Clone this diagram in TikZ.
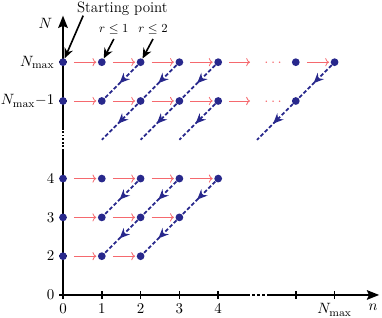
\documentclass[tikz,border=0pt]{standalone}
\usepackage{amsmath,amssymb}
\usetikzlibrary{arrows.meta,calc,positioning,decorations.markings}

\definecolor{sitecol}{RGB}{40,40,140}
\definecolor{hopcol}{RGB}{245,105,110}

\begin{document}
\begin{tikzpicture}[x=1cm,y=1cm,
    every node/.style={font=\fontsize{11}{13}\selectfont},
    site/.style={circle,fill=sitecol,inner sep=0pt,minimum size=0.2cm},
    hop/.style={hopcol,line width=0.6pt,-{To[length=2.8pt,width=6pt]},shorten <=5pt,shorten >=1pt},
    drop/.style={sitecol,line width=1.3pt,dash pattern=on 2.8pt off 1.6pt,
      postaction={decorate},
      decoration={markings,mark=at position 0.55 with {\arrow{Stealth[length=7.5pt,width=6.5pt]}}}},
    axis/.style={line width=1.5pt},
    pointer/.style={line width=1.2pt,-{Stealth[length=7.5pt,width=6.5pt]}},
    bound/.style={font=\fontsize{9.5}{11}\selectfont}]

      \useasboundingbox (-1.624,-0.593) rectangle (8.222,7.603);

      % axes
      \coordinate (o) at (0,0);
      \coordinate (ygap1) at (0,3.72);
      \coordinate (ygap2) at (0,4.28);
      \coordinate (ytop) at (0,7.2);
      \coordinate (xgap1) at (4.74,0);
      \coordinate (xgap2) at (5.26,0);
      \coordinate (xend) at (8.15,0);
      \draw[axis] (o) -- (ygap1);
      \draw[axis,dash pattern=on 1.4pt off 1.2pt] (ygap1) -- (ygap2);
      \draw[axis,-{Stealth[length=9pt,width=7pt,inset=1.5pt]}] (ygap2) -- (ytop);
      \draw[axis] (o) -- (xgap1);
      \draw[axis,dash pattern=on 2pt off 1.7pt] (xgap1) -- (xgap2);
      \draw[axis,-{Stealth[length=9pt,width=7pt,inset=1.5pt]}] (xgap2) -- (xend);
      \node (ylab) at (-0.45,7.0) {$N$};
      \node (xlab) at (7.99,-0.31) {$n$};

      % x-axis ticks
      \foreach \x in {0,1,2,3,4,6,7}
        \draw[axis,line width=1.2pt] (\x,.1) -- (\x,-.1);
      \foreach \x/\lab in {0/0,1/1,2/2,3/3,4/4,7/N_{\max}}
        \node[below] (xt-\x) at (\x,-.1) {$\lab$};

      % y-axis ticks
      \foreach \y in {0,1,2,3,5,6}
        \draw[axis,line width=1.2pt] (-.1,\y) -- (.1,\y);
      \foreach \y/\lab in {0/0,1/2,2/3,3/4,5/N_{\max}{-}1,6/N_{\max}}
        \node[left] (yt-\y) at (-.1,\y) {$\lab$};

      % sites
      \foreach \r/\last in {1/2,2/3,3/4,5/4,6/4}
        \foreach \c in {0,...,\last}
          \node[site] (s-\c-\r) at (\c,\r) {};
      \node[site] (s-6-5) at (6,5) {};
      \node[site] (s-6-6) at (6,6) {};
      \node[site] (s-7-6) at (7,6) {};

      % horizontal hops
      \foreach \r/\last in {1/2,2/3,3/4,5/4,6/4}
        \foreach \c in {1,...,\last}
        {
          \pgfmathtruncatemacro\p{\c-1}
          \draw[hop] (s-\p-\r) -- (s-\c-\r);
        }
      \coordinate (e-5) at (4.82,5);
      \coordinate (e-6) at (4.82,6);
      \draw[hop,shorten >=0pt] (s-4-5) -- (e-5);
      \draw[hop,shorten >=0pt] (s-4-6) -- (e-6);
      \draw[hop] (s-6-6) -- (s-7-6);
      \node[hopcol] (dots-5) at (5.45,4.97) {$\cdots$};
      \node[hopcol] (dots-6) at (5.45,5.97) {$\cdots$};

      % diagonal drops
      \foreach \c/\r in {2/2,3/2,2/3,3/3,4/3,2/6,3/6,4/6,7/6}
      {
        \pgfmathtruncatemacro\cc{\c-1}
        \pgfmathtruncatemacro\rr{\r-1}
        \draw[drop] (s-\c-\r) -- (s-\cc-\rr);
      }
      \foreach \c in {2,3,4,6}
      {
        \pgfmathtruncatemacro\cc{\c-1}
        \coordinate (t-\cc) at (\cc,4);
        \draw[drop] (s-\c-5) -- (t-\cc);
      }

      % pointers
      \node (start) at (1.53,7.37) {Starting point};
      \node[bound] (r1) at (1.31,6.85) {$r\leq 1$};
      \node[bound] (r2) at (2.32,6.85) {$r\leq 2$};
      \coordinate (start-tail) at (0.52,7.2);
      \draw[pointer] (start-tail) -- (s-0-6);
      \draw[pointer] (r1.south) -- (s-1-6);
      \draw[pointer] (r2.south) -- (s-2-6);

    \end{tikzpicture}
\end{document}
